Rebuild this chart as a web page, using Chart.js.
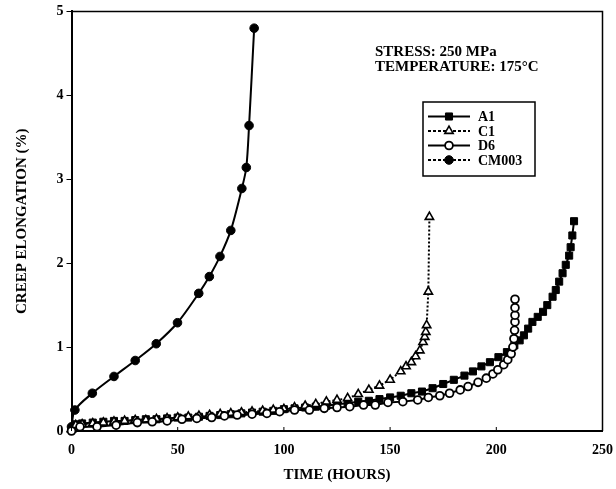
<!DOCTYPE html>
<html>
<head>
<meta charset="utf-8">
<script src="https://cdn.jsdelivr.net/npm/chart.js@4.4.0/dist/chart.umd.min.js"></script>
<style>
body { margin: 0; background: #fff; }
</style>
</head>
<body>
<canvas id="myChart" width="616" height="489"></canvas>
<script>
// values (hours, creep %)
var a1Hours = [0, 2, 5, 10, 15, 20, 25, 30, 35, 40, 45, 50, 55, 60, 65, 70, 75, 80, 85, 90, 95, 100, 105, 110, 115, 120, 125, 130, 135, 140, 145, 150, 155, 160, 165, 170, 175, 180, 185, 189, 193, 197, 201, 205, 208.5, 211, 213, 215, 217, 219.5, 222, 224, 226.5, 228, 229.6, 231.2, 232.7, 234.3, 235, 235.8, 236.6];
var a1Creep = [0.02, 0.08, 0.09, 0.1, 0.11, 0.12, 0.12, 0.13, 0.14, 0.14, 0.15, 0.16, 0.16, 0.17, 0.18, 0.19, 0.2, 0.21, 0.22, 0.23, 0.24, 0.26, 0.27, 0.28, 0.29, 0.3, 0.32, 0.33, 0.35, 0.36, 0.38, 0.4, 0.42, 0.45, 0.47, 0.51, 0.56, 0.61, 0.66, 0.71, 0.77, 0.82, 0.88, 0.94, 1.02, 1.08, 1.14, 1.22, 1.3, 1.36, 1.42, 1.5, 1.6, 1.68, 1.78, 1.88, 1.98, 2.09, 2.19, 2.33, 2.5];

var c1Hours = [0, 2, 5, 10, 15, 20, 25, 30, 35, 40, 45, 50, 55, 60, 65, 70, 75, 80, 85, 90, 95, 100, 105, 110, 115, 120, 125, 130, 135, 140, 145, 150, 155, 157.5, 160, 162, 164, 165.5, 166.3, 166.8, 167.2, 168, 168.5];
var c1Creep = [0.02, 0.07, 0.08, 0.09, 0.1, 0.11, 0.12, 0.13, 0.13, 0.14, 0.15, 0.16, 0.17, 0.18, 0.19, 0.2, 0.21, 0.22, 0.23, 0.24, 0.25, 0.26, 0.28, 0.3, 0.32, 0.35, 0.37, 0.39, 0.44, 0.49, 0.54, 0.61, 0.71, 0.77, 0.82, 0.89, 0.96, 1.06, 1.12, 1.18, 1.26, 1.66, 2.55];

var d6Hours = [0, 4, 12, 21, 31, 38, 45, 52, 59, 66, 72, 78, 85, 92, 98, 105, 112, 119, 125, 131, 137.5, 143, 149, 156, 163, 168, 173.4, 178, 183, 186.7, 191.4, 195.3, 198.4, 200.7, 203.5, 205.4, 207, 207.8, 208.3, 208.6, 208.8, 208.8, 208.8, 208.8];
var d6Creep = [0.0, 0.05, 0.05, 0.07, 0.1, 0.11, 0.12, 0.14, 0.15, 0.16, 0.18, 0.19, 0.2, 0.21, 0.23, 0.25, 0.25, 0.27, 0.28, 0.29, 0.31, 0.31, 0.34, 0.35, 0.37, 0.4, 0.42, 0.45, 0.49, 0.53, 0.58, 0.63, 0.68, 0.73, 0.79, 0.85, 0.92, 1.0, 1.1, 1.2, 1.3, 1.38, 1.47, 1.57];

var cmHours = [0, 1.6, 9.8, 20, 30, 39.9, 49.9, 59.9, 64.9, 69.9, 75, 80.2, 82.3, 83.6, 86];
var cmCreep = [0.05, 0.25, 0.45, 0.65, 0.84, 1.04, 1.29, 1.64, 1.84, 2.08, 2.39, 2.89, 3.14, 3.64, 4.8];

var noteLines = ['STRESS: 250 MPa', 'TEMPERATURE: 175°C'];

var serif = "'Liberation Serif', 'Times New Roman', serif";

function toPoints(xs, ys) {
    return xs.map(function (x, i) { return { x: x, y: ys[i] }; });
}

// box round the plot + inward ticks on the time axis
var framePlugin = {
    id: 'frame',
    afterDraw: function (chart) {
        var a = chart.chartArea, ctx = chart.ctx;
        ctx.save();
        ctx.strokeStyle = '#000';
        ctx.lineWidth = 1.5;
        ctx.beginPath();
        ctx.moveTo(a.left, a.top);
        ctx.lineTo(a.right, a.top);
        ctx.lineTo(a.right, a.bottom);
        ctx.stroke();
        ctx.lineWidth = 1;
        var xs = chart.scales.x;
        xs.ticks.forEach(function (t) {
            var px = xs.getPixelForValue(t.value);
            ctx.beginPath();
            ctx.moveTo(px, a.bottom);
            ctx.lineTo(px, a.bottom - 4);
            ctx.stroke();
        });
        ctx.restore();
    }
};

function drawMarker(ctx, ds, x, y) {
    var r = ds.pointRadius;
    ctx.fillStyle = ds.pointBackgroundColor;
    ctx.strokeStyle = '#000';
    ctx.lineWidth = ds.pointBorderWidth;
    ctx.setLineDash([]);
    ctx.beginPath();
    if (ds.pointStyle === 'rect') {
        var s = r * Math.SQRT1_2;
        ctx.rect(x - s, y - s, 2 * s, 2 * s);
    } else if (ds.pointStyle === 'triangle') {
        ctx.moveTo(x, y - r);
        ctx.lineTo(x + r * 0.866, y + r * 0.5);
        ctx.lineTo(x - r * 0.866, y + r * 0.5);
        ctx.closePath();
    } else {
        ctx.arc(x, y, r, 0, Math.PI * 2);
    }
    ctx.fill();
    ctx.stroke();
}

// legend box and the stress / temperature note
var notesPlugin = {
    id: 'notes',
    afterDraw: function (chart) {
        var ctx = chart.ctx;
        ctx.save();
        ctx.fillStyle = '#000';
        ctx.font = 'bold 15px ' + serif;
        ctx.textBaseline = 'middle';
        noteLines.forEach(function (t, i) {
            ctx.fillText(t, 375, 52 + i * 15.5);
        });

        ctx.strokeStyle = '#000';
        ctx.lineWidth = 1.5;
        ctx.strokeRect(423, 102, 112, 74);
        ctx.font = 'bold 14px ' + serif;
        chart.data.datasets.forEach(function (ds, i) {
            var y = 116.5 + i * 14.5;
            ctx.strokeStyle = '#000';
            ctx.lineWidth = 2;
            ctx.setLineDash(ds.legendDash || []);
            ctx.beginPath();
            ctx.moveTo(428, y);
            ctx.lineTo(470, y);
            ctx.stroke();
            drawMarker(ctx, ds, 449, y);
            ctx.fillStyle = '#000';
            ctx.fillText(ds.label, 478, y + 1);
        });
        ctx.restore();
    }
};

var ctx = document.getElementById('myChart').getContext('2d');
var myChart = new Chart(ctx, {
    type: 'scatter',
    data: {
        datasets: [{
            label: 'A1',
            data: toPoints(a1Hours, a1Creep),
            showLine: true,
            borderColor: '#000',
            borderWidth: 2,
            pointStyle: 'rect',
            pointRadius: 5,
            pointBackgroundColor: '#000',
            pointBorderColor: '#000',
            pointBorderWidth: 1,
            tension: 0,
            clip: false,
            order: 2
        }, {
            label: 'C1',
            data: toPoints(c1Hours, c1Creep),
            showLine: true,
            borderColor: '#000',
            borderWidth: 2,
            borderDash: [2, 2],
            legendDash: [3, 2],
            pointStyle: 'triangle',
            pointRadius: 4.8,
            pointBackgroundColor: '#fff',
            pointBorderColor: '#000',
            pointBorderWidth: 1.6,
            tension: 0,
            clip: false,
            order: 1
        }, {
            label: 'D6',
            data: toPoints(d6Hours, d6Creep),
            showLine: true,
            borderColor: '#000',
            borderWidth: 2,
            pointStyle: 'circle',
            pointRadius: 3.9,
            pointBackgroundColor: '#fff',
            pointBorderColor: '#000',
            pointBorderWidth: 1.8,
            tension: 0,
            clip: false,
            order: 0
        }, {
            label: 'CM003',
            data: toPoints(cmHours, cmCreep),
            showLine: true,
            borderColor: '#000',
            borderWidth: 2,
            legendDash: [3, 2],
            pointStyle: 'circle',
            pointRadius: 4.3,
            pointBackgroundColor: '#000',
            pointBorderColor: '#000',
            pointBorderWidth: 1,
            tension: 0.3,
            clip: false,
            order: 3
        }]
    },
    options: {
        responsive: false,
        animation: false,
        layout: { padding: { top: 11, right: 0, left: 0, bottom: 0 } },
        plugins: {
            legend: { display: false },
            tooltip: { enabled: false }
        },
        scales: {
            x: {
                type: 'linear',
                min: 0,
                max: 250,
                afterFit: function (scale) { scale.height = 58; },
                ticks: {
                    stepSize: 50,
                    color: '#000',
                    padding: 3,
                    font: { family: serif, size: 14, weight: 'bold' }
                },
                grid: { display: false },
                border: { display: true, color: '#000', width: 2 },
                title: {
                    display: true,
                    text: 'TIME (HOURS)',
                    color: '#000',
                    padding: { top: 0, bottom: 5 },
                    font: { family: serif, size: 15, weight: 'bold' }
                }
            },
            y: {
                min: 0,
                max: 5,
                afterFit: function (scale) { scale.width = 71.5; },
                ticks: {
                    stepSize: 1,
                    color: '#000',
                    padding: 3,
                    font: { family: serif, size: 14, weight: 'bold' }
                },
                grid: {
                    display: true,
                    drawOnChartArea: false,
                    drawTicks: true,
                    tickLength: 5,
                    color: '#000'
                },
                border: { display: true, color: '#000', width: 2 },
                title: {
                    display: true,
                    text: 'CREEP ELONGATION (%)',
                    color: '#000',
                    padding: { top: 13, bottom: 0 },
                    font: { family: serif, size: 15, weight: 'bold' }
                }
            }
        }
    },
    plugins: [framePlugin, notesPlugin]
});
</script>
</body>
</html>
